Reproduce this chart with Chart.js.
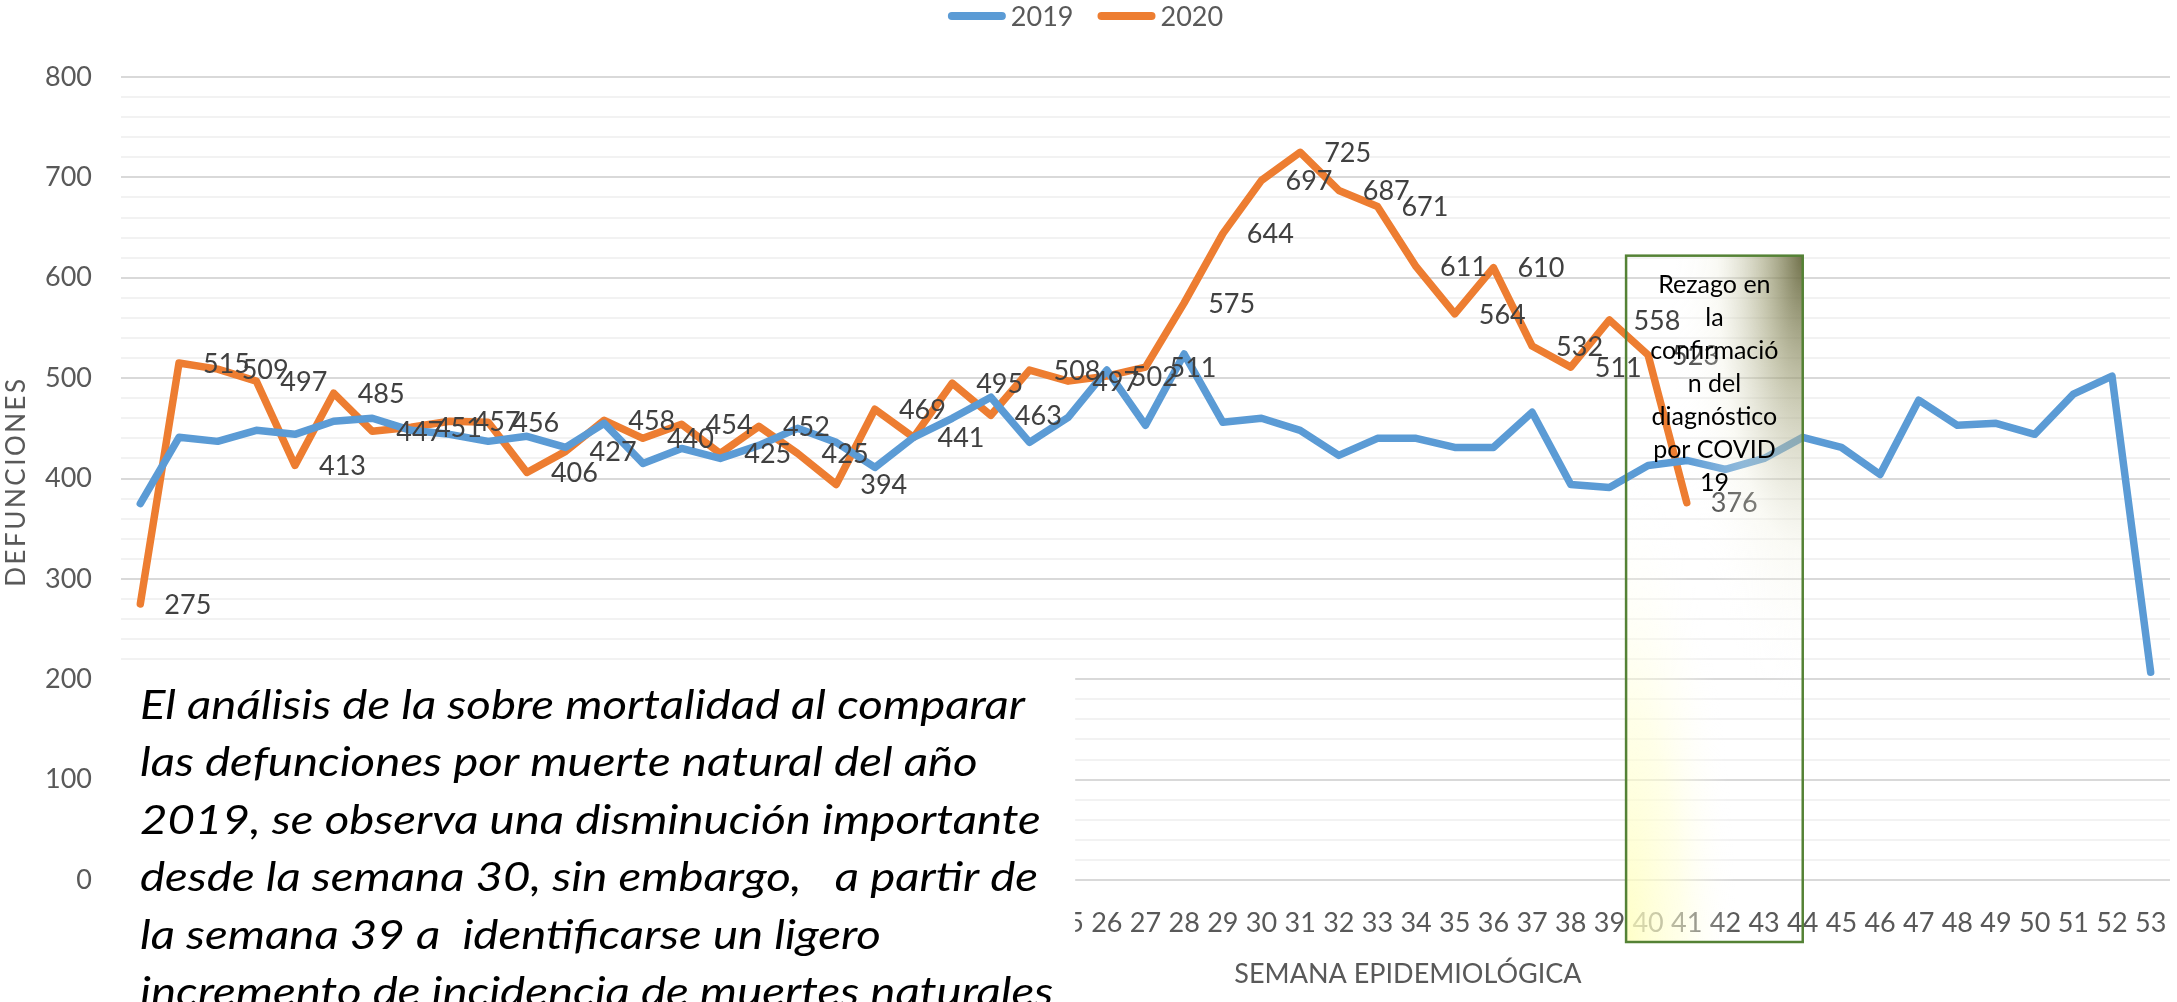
<!DOCTYPE html>
<html>
<head>
<meta charset="utf-8">
<script src="https://cdn.jsdelivr.net/npm/chart.js@4.4.1/dist/chart.umd.min.js"></script>
<style>
  html, body { margin: 0; padding: 0; background: #ffffff; }
  #wrap { width: 2177px; height: 1002px; position: relative; }
</style>
</head>
<body>
<div id="wrap"><canvas id="c" width="2177" height="1002"></canvas></div>
<script>
// ---------- DATA ----------
const weeks = ['1','2','3','4','5','6','7','8','9','10','11','12','13','14','15','16','17','18','19','20',
  '21','22','23','24','25','26','27','28','29','30','31','32','33','34','35','36','37','38','39','40',
  '41','42','43','44','45','46','47','48','49','50','51','52','53'];
const deaths2019 = [375, 441, 437, 448, 444, 457, 460, 448, 444, 437, 442, 431, 455, 415, 430, 420, 433, 450, 436, 411,
  441, 460, 481, 436, 461, 508, 453, 524, 456, 460, 448, 423, 440, 440, 431, 431, 466, 394, 391, 413,
  418, 409, 420, 441, 431, 404, 478, 453, 455, 444, 484, 502, 207];
const deaths2020 = [275, 515, 509, 497, 413, 485, 447, 451, 457, 456, 406, 427, 458, 440, 454, 425, 452, 425, 394, 469,
  441, 495, 463, 508, 497, 502, 511, 575, 644, 697, 725, 687, 671, 611, 564, 610, 532, 511, 558, 523, 376];
const seriesNames = ['2019', '2020'];
const yAxisTitle = 'DEFUNCIONES';
const xAxisTitle = 'SEMANA EPIDEMIOLÓGICA';
const noteLines = ['Rezago en', 'la', 'confirmació', 'n del', 'diagnóstico', 'por COVID', '19'];
const commentLines = [
  'El análisis de la sobre mortalidad al comparar',
  'las defunciones por muerte natural del año',
  '2019, se observa una disminución importante',
  'desde la semana 30, sin embargo,   a partir de',
  'la semana 39 a  identificarse un ligero',
  'incremento de incidencia de muertes naturales'
];

// ---------- STYLE ----------
const BLUE = '#5B9BD5', ORANGE = '#ED7D31', AXIS_TXT = '#595959', LABEL_TXT = '#404040';
const FONT = 'Lato, "Open Sans", sans-serif';

const extras = {
  id: 'extras',
  afterDraw(chart) {
    const ctx = chart.ctx, xs = chart.scales.x, ys = chart.scales.y, ca = chart.chartArea;

    // data labels for 2020
    const meta = chart.getDatasetMeta(1);
    ctx.save();
    ctx.font = '27px ' + FONT;
    ctx.fillStyle = LABEL_TXT;
    ctx.textAlign = 'left';
    ctx.textBaseline = 'middle';
    meta.data.forEach((pt, i) => ctx.fillText(String(deaths2020[i]), pt.x + 24, pt.y + 1));
    ctx.restore();

    // annotation box (weeks 40-44)
    const bl = xs.getPixelForValue(39) - 22, br = xs.getPixelForValue(43);
    const bt = ys.getPixelForValue(622), bb = ca.bottom + 62;
    const bw = br - bl, bh = bb - bt;
    ctx.save();
    ctx.beginPath(); ctx.rect(bl, bt, bw, bh); ctx.clip();
    ctx.save();
    ctx.translate(bl, bb); ctx.scale(1, 4.2);
    let g = ctx.createRadialGradient(0, 0, 0, 0, 0, bw * 0.62);
    g.addColorStop(0, 'rgba(255,255,190,0.85)');
    g.addColorStop(0.5, 'rgba(255,255,215,0.55)');
    g.addColorStop(1, 'rgba(255,255,255,0)');
    ctx.fillStyle = g; ctx.fillRect(0, -bh, bw, bh);
    ctx.restore();
    ctx.save();
    ctx.translate(br, bt); ctx.scale(1, 3.4);
    g = ctx.createRadialGradient(0, 0, 0, 0, 0, bw * 0.75);
    g.addColorStop(0, 'rgba(105,105,65,0.95)');
    g.addColorStop(0.3, 'rgba(160,160,120,0.6)');
    g.addColorStop(0.65, 'rgba(240,240,225,0.35)');
    g.addColorStop(1, 'rgba(255,255,255,0)');
    ctx.fillStyle = g; ctx.fillRect(-bw, 0, bw, bh);
    ctx.restore();
    ctx.restore();
    ctx.save();
    ctx.strokeStyle = '#548235'; ctx.lineWidth = 2.5;
    ctx.strokeRect(bl, bt, bw, bh);
    ctx.font = '25px ' + FONT; ctx.fillStyle = '#000000';
    ctx.textAlign = 'center'; ctx.textBaseline = 'middle';
    const cx = (bl + br) / 2;
    noteLines.forEach((t, i) => ctx.fillText(t, cx, bt + 29 + i * 33.1));
    ctx.restore();

    // white comment box in lower-left
    const wl = 110, wr = xs.getPixelForValue(24) + 7, wt = ys.getPixelForValue(211);
    ctx.save();
    ctx.fillStyle = '#ffffff';
    ctx.fillRect(wl, wt, wr - wl, chart.height - wt);
    ctx.font = 'italic 41px ' + FONT;
    ctx.fillStyle = '#000000';
    ctx.textAlign = 'left'; ctx.textBaseline = 'alphabetic';
    const k = 885 / ctx.measureText(commentLines[0]).width;
    ctx.scale(k, 1);
    commentLines.forEach((t, i) => ctx.fillText(t, 140 / k, 719 + i * 57.4));
    ctx.restore();

    // axis titles
    ctx.save();
    ctx.fillStyle = AXIS_TXT;
    ctx.font = '27px ' + FONT;
    ctx.textAlign = 'center'; ctx.textBaseline = 'middle';
    ctx.fillText(xAxisTitle, 1408, 974);
    ctx.translate(17, (ca.top + ca.bottom) / 2 + 4);
    ctx.rotate(-Math.PI / 2);
    ctx.font = '26px ' + FONT;
    ctx.letterSpacing = '2.5px';
    ctx.fillText(yAxisTitle, 1, 0);
    ctx.restore();

    // legend
    ctx.save();
    ctx.font = '27px ' + FONT;
    const colors = [BLUE, ORANGE];
    const lineW = 58, gap = 5, itemGap = 24;
    const widths = seriesNames.map(n => ctx.measureText(n).width);
    const total = widths.reduce((a, w) => a + lineW + gap + w, 0) + itemGap * (seriesNames.length - 1);
    let x = chart.width / 2 - 3 - total / 2;
    const ly = 16;
    seriesNames.forEach((n, i) => {
      ctx.strokeStyle = colors[i]; ctx.lineWidth = 8; ctx.lineCap = 'round';
      ctx.beginPath(); ctx.moveTo(x + 4, ly); ctx.lineTo(x + lineW - 4, ly); ctx.stroke();
      ctx.fillStyle = AXIS_TXT; ctx.textAlign = 'left'; ctx.textBaseline = 'middle';
      ctx.fillText(n, x + lineW + gap, ly + 1);
      x += lineW + gap + widths[i] + itemGap;
    });
    ctx.restore();
  }
};

new Chart(document.getElementById('c'), {
  type: 'line',
  data: {
    labels: weeks,
    datasets: [
      { label: seriesNames[0], data: deaths2019, borderColor: BLUE, backgroundColor: BLUE,
        borderWidth: 7.5, pointRadius: 0, tension: 0, borderCapStyle: 'round', borderJoinStyle: 'round' },
      { label: seriesNames[1], data: deaths2020, borderColor: ORANGE, backgroundColor: ORANGE,
        borderWidth: 7.5, pointRadius: 0, tension: 0, borderCapStyle: 'round', borderJoinStyle: 'round' }
    ]
  },
  options: {
    responsive: false,
    devicePixelRatio: 1,
    animation: false,
    layout: { padding: { top: 77, right: 7, bottom: 0, left: 0 } },
    plugins: { legend: { display: false }, tooltip: { enabled: false } },
    scales: {
      x: {
        offset: true,
        grid: { display: false, drawTicks: false },
        border: { display: false },
        ticks: { autoSkip: false, maxRotation: 0, minRotation: 0, padding: 27,
                 color: AXIS_TXT, font: { family: FONT, size: 27 } },
        afterFit(scale) { scale.height = 122; scale.paddingLeft = 0; scale.paddingRight = 0; }
      },
      y: {
        min: 0, max: 800,
        border: { display: false },
        grid: {
          drawTicks: false,
          color: c => (c.tick && c.tick.value % 100 === 0) ? '#D9D9D9' : '#F2F2F2',
          lineWidth: 2
        },
        ticks: {
          stepSize: 20, autoSkip: false, padding: 29, color: AXIS_TXT,
          font: { family: FONT, size: 27 },
          callback: v => (v % 100 === 0 ? String(v) : '')
        },
        afterFit(scale) { scale.width = 121; scale.paddingTop = 0; scale.paddingBottom = 0; }
      }
    }
  },
  plugins: [extras]
});
</script>
</body>
</html>
